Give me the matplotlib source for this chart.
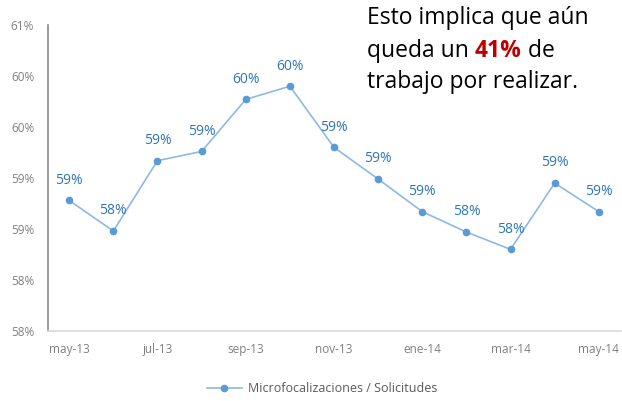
import math
import matplotlib.pyplot as plt

# avance mensual: microfocalizaciones / solicitudes
meses = ['may-13', 'jun-13', 'jul-13', 'ago-13', 'sep-13', 'oct-13', 'nov-13',
         'dic-13', 'ene-14', 'feb-14', 'mar-14', 'abr-14', 'may-14']
avance = [0.5878, 0.5848, 0.5917, 0.5926, 0.5977, 0.5990, 0.5930,
          0.5899, 0.5867, 0.5847, 0.5830, 0.5895, 0.5867]
ticks_y = [0.575, 0.580, 0.585, 0.590, 0.595, 0.600, 0.605]

plt.rcParams['font.family'] = ['Open Sans', 'DejaVu Sans']


def pct(v):
    # redondeo "hacia arriba" como en la hoja de calculo
    return '%d%%' % math.floor(v * 100 + 0.5 + 1e-9)


fig = plt.figure(figsize=(6.22, 4.01), dpi=100)
ax = fig.add_axes([0.0772, 0.1746, 0.921, 0.7631])

x = list(range(len(meses)))
ax.plot(x, avance, color='#8DB9E4', linewidth=1.2, marker='o', markersize=4.5,
        markerfacecolor='#5B9BD5', markeredgecolor='#5B9BD5',
        label='Microfocalizaciones / Solicitudes')

for xi, v in zip(x, avance):
    ax.annotate(pct(v), (xi, v), xytext=(0, 14.5), textcoords='offset points',
                ha='center', va='center', fontsize=10, color='#2E75B6')

ax.set_xlim(-0.48, 12.5)
ax.set_ylim(0.575, 0.605)
ax.set_yticks(ticks_y)
ax.set_yticklabels([pct(t) for t in ticks_y])
ax.set_xticks(x[::2])
ax.set_xticklabels(meses[::2])
ax.tick_params(axis='both', length=0, labelsize=8.5, labelcolor='#808080')
ax.tick_params(axis='y', pad=10)
ax.tick_params(axis='x', pad=9)

for s in ['top', 'right']:
    ax.spines[s].set_visible(False)
ax.spines['left'].set_color('#8C8C8C')
ax.spines['left'].set_linewidth(1.2)
ax.spines['bottom'].set_color('#D9D9D9')
ax.spines['bottom'].set_linewidth(1.2)

fig.legend(loc='center', bbox_to_anchor=(322 / 622, 1 - 389 / 401), frameon=False,
           fontsize=9, labelcolor='#595959', handlelength=2.8, handletextpad=0.5)

# texto de la conclusion
tx, fs = 0.59, 16.5
fig.text(tx, 0.955, 'Esto implica que aún', fontsize=fs, va='center')
t2 = fig.text(tx, 0.873, 'queda un ', fontsize=fs, va='center')
fig.text(tx, 0.795, 'trabajo por realizar.', fontsize=fs, va='center')
a = ax.annotate('41%', xy=(1, 0), xycoords=t2, va='bottom', ha='left',
                fontsize=fs, fontweight='bold', color='#C00000',
                annotation_clip=False)
ax.annotate(' de', xy=(1, 0), xycoords=a, va='bottom', ha='left', fontsize=fs,
            annotation_clip=False)

fig.savefig('out.png', dpi=100)
